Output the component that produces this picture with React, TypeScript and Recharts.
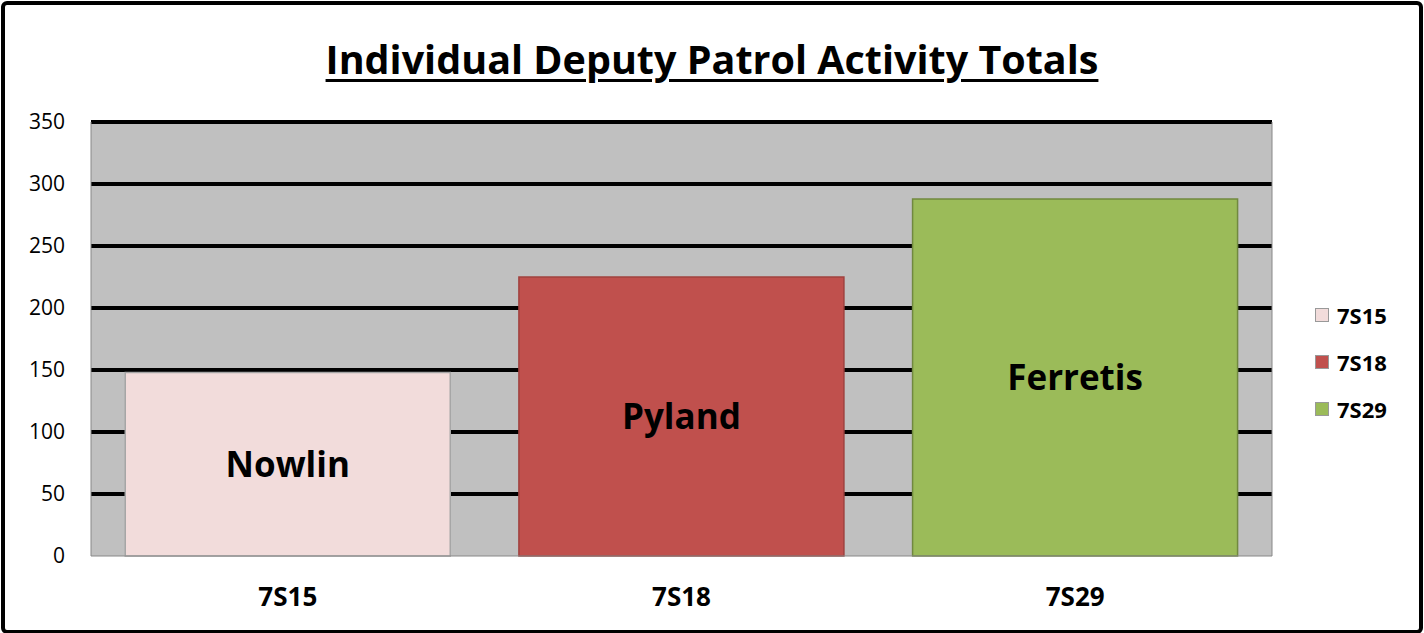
import { BarChart, Bar, XAxis, YAxis, CartesianGrid, Cell, LabelList } from "recharts";

const units = ["7S15", "7S18", "7S29"];
const deputies = ["Nowlin", "Pyland", "Ferretis"];
const totals = [148, 225, 288];
const yTicks = [0, 50, 100, 150, 200, 250, 300, 350];

const FILLS = ["#F2DCDB", "#C0504D", "#9BBB59"];
const EDGES = ["#A6A6A6", "#A0413E", "#71893F"];
const FONT = "'Open Sans', sans-serif";
const PLOT_BOTTOM = 556;

const data = units.map((u, i) => ({ unit: u, name: deputies[i], total: totals[i] }));

// black grid lines, but skip the one on the zero baseline (that one stays grey)
const gridLine = (p: any) =>
  p.y1 > PLOT_BOTTOM - 2 ? (
    <g />
  ) : (
    <line x1={p.x1} x2={p.x2} y1={p.y1} y2={p.y2} stroke="#000" strokeWidth={4} />
  );

export default function App() {
  return (
    <div style={{ position: "absolute", left: 0, top: 0, width: 1424, height: 633, background: "#fff", fontFamily: FONT }}>
      <BarChart
        width={1424}
        height={633}
        data={data}
        margin={{ top: 122, right: 151, bottom: 0, left: 31 }}
        barCategoryGap="8.7%"
      >
        <CartesianGrid vertical={false} horizontal={gridLine} fill="#C0C0C0" />
        <XAxis
          dataKey="unit"
          height={77}
          tickSize={0}
          tickMargin={32}
          axisLine={{ stroke: "#888" }}
          tick={{ fill: "#000", fontSize: 26, fontWeight: 700 }}
        />
        <YAxis
          domain={[0, 350]}
          ticks={yTicks}
          width={60}
          tickSize={0}
          tickMargin={26}
          axisLine={{ stroke: "#888" }}
          tick={{ fill: "#000", fontSize: 21 }}
        />
        <YAxis yAxisId="edge" orientation="right" width={1} tick={false} tickLine={false} axisLine={{ stroke: "#888" }} />
        <Bar dataKey="total" isAnimationActive={false} strokeWidth={1.5}>
          {data.map((_, i) => (
            <Cell key={i} fill={FILLS[i]} stroke={EDGES[i]} />
          ))}
          <LabelList dataKey="name" position="center" fill="#000" fontSize={35} fontWeight={700} />
        </Bar>
      </BarChart>

      <div
        style={{
          position: "absolute",
          left: 0,
          top: 40,
          width: 1424,
          textAlign: "center",
          fontSize: 39.5,
          lineHeight: 1,
          fontWeight: 700,
          textDecoration: "underline",
          textUnderlineOffset: 5,
          textDecorationThickness: 3,
        }}
      >
        Individual Deputy Patrol Activity Totals
      </div>

      <div style={{ position: "absolute", left: 1315, top: 291 }}>
        {units.map((u, i) => (
          <div key={u} style={{ display: "flex", alignItems: "center", height: 47 }}>
            <span
              style={{
                display: "inline-block",
                width: 12,
                height: 12,
                background: FILLS[i],
                border: "1.5px solid #999",
                marginRight: 8,
              }}
            />
            <span style={{ fontSize: 22, fontWeight: 700 }}>{u}</span>
          </div>
        ))}
      </div>

      <div
        style={{
          position: "absolute",
          left: 1,
          top: 1,
          width: 1414,
          height: 625,
          border: "4px solid #000",
          borderRadius: 6,
          pointerEvents: "none",
        }}
      />
    </div>
  );
}
